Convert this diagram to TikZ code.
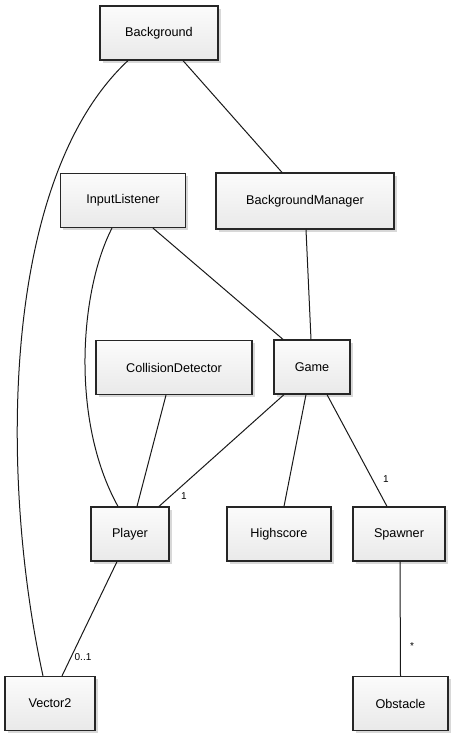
\documentclass[tikz,border=0pt]{standalone}
\usepackage{fontspec}
\setmainfont{Liberation Sans}
\usetikzlibrary{calc,shadows}
\begin{document}
\begin{tikzpicture}[x=0.75pt,y=-0.75pt,
  cls/.style={draw=black!85, line width=0.9pt, inner sep=0pt,
    top color=gray!3, bottom color=gray!17,
    drop shadow={shadow xshift=2.2pt, shadow yshift=-2.2pt, fill=gray!60, opacity=0.5},
    font=\fontsize{9.5}{11}\selectfont, minimum height=40.5pt},
  link/.style={draw=black!90, line width=0.75pt},
  mult/.style={font=\fontsize{7.5}{8}\selectfont, inner sep=0pt}]
\useasboundingbox (0,0) rectangle (454,735);
\node[cls, minimum width=88.5pt] (bg) at (159,33) {Background};
\node[cls, minimum width=93.75pt] (il) at (123,200.5) {InputListener};
\node[cls, minimum width=133.5pt, minimum height=42pt] (bm) at (305,201) {BackgroundManager};
\node[cls, minimum width=117pt] (cd) at (174,367.5) {CollisionDetector};
\node[cls, minimum width=57pt] (game) at (312,367) {Game};
\node[cls, minimum width=58.5pt] (pl) at (130,534) {Player};
\node[cls, minimum width=78pt] (hs) at (279,534) {Highscore};
\node[cls, minimum width=69pt] (sp) at (399,534) {Spawner};
\node[cls, minimum width=67.5pt] (v2) at (50,703.5) {Vector2};
\node[cls, minimum width=71.25pt] (ob) at (400.5,703.5) {Obstacle};
% connectors
\draw[link] ($(bg.south)+(-31,0)$) .. controls (0,180) and (0,480) .. ($(v2.north)+(-7,0)$);
\draw[link] ($(bg.south)+(24,0)$) -- ($(bm.north)+(-23,0)$);
\draw[link] ($(il.south)+(-11,0)$) .. controls (80,290) and (70,420) .. ($(pl.north)+(-12,0)$);
\draw[link] ($(il.south)+(30,0)$) -- ($(game.north)+(-29,0)$);
\draw[link] ($(bm.south)+(1,0)$) -- ($(game.north)+(-1,0)$);
\draw[link] ($(cd.south)+(-8,0)$) -- ($(pl.north)+(7,0)$);
\draw[link] ($(game.south)+(-28,0)$) -- ($(pl.north)+(29,0)$);
\draw[link] ($(game.south)+(-6,0)$) -- ($(hs.north)+(5,0)$);
\draw[link] ($(game.south)+(15,0)$) -- ($(sp.north)+(-12,0)$);
\draw[link] ($(sp.south)+(1,0)$) -- ($(ob.north)+(0,0)$);
\draw[link] ($(pl.south)+(-13,0)$) -- ($(v2.north)+(12,0)$);
% multiplicities
\node[mult] (m1) at (184,496) {1};
\node[mult] (m2) at (386,479) {1};
\node[mult] (m3) at (412,646) {*};
\node[mult] (m4) at (83,657) {0..1};
\end{tikzpicture}
\end{document}
